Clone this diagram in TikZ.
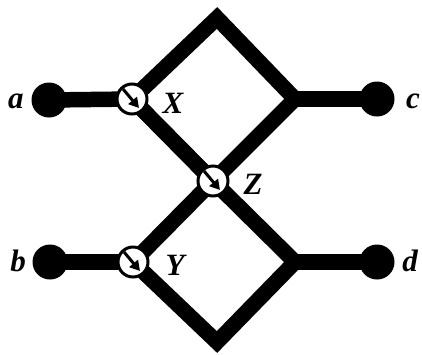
\documentclass[tikz,border=0pt]{standalone}
\usepackage{fontspec}
\setmainfont{Liberation Serif}
\usetikzlibrary{arrows.meta,calc}
\begin{document}
\begin{tikzpicture}[x=1pt,y=-1pt,
  wire/.style={line width=15.5pt,line join=miter},
  term/.style={circle,fill=black,minimum size=35pt,inner sep=0pt},
  junc/.style={circle,draw=black,fill=white,line width=3pt,minimum size=30pt,inner sep=0pt},
  flow/.style={line width=3pt,-{Triangle[length=10pt,width=11pt]}},
  lbl/.style={font=\fontsize{31}{31}\selectfont\bfseries\itshape,inner sep=0pt}]
\useasboundingbox (0,0) rectangle (422,354);
% terminals
\node[term] (a) at (49,100) {};
\node[term] (b) at (50,262) {};
\node[term] (c) at (377,99) {};
\node[term] (d) at (377,262) {};
% corners
\coordinate (top) at (217,18);
\coordinate (bot) at (217,342);
\coordinate (r1) at (295,99);
\coordinate (r2) at (295,262);
\coordinate (X) at (132,99);
\coordinate (Y) at (133,262);
\coordinate (Z) at (213,181);
% wires
\draw[wire] (a.center) -- (X);
\draw[wire] (b.center) -- (Y);
\draw[wire] (X) -- (top) -- (r1) -- (Z) -- (Y) -- (bot) -- (r2) -- (Z) -- cycle;
\draw[wire] (X) -- (Z);
\draw[wire] (r1) -- (c.center);
\draw[wire] (r2) -- (d.center);
% junction nodes
\foreach \j in {X,Y,Z}{
  \node[junc] (\j n) at (\j) {};
  \draw[flow] ($(\j)+(-9,-10)$) -- ($(\j)+(7,9)$);
}
% labels
\node[lbl] at (16,101) {a};
\node[lbl] at (18,261) {b};
\node[lbl] at (413,101) {c};
\node[lbl] at (410,261) {d};
\node[lbl] at (173,103) {X};
\node[lbl] at (253,184) {Z};
\node[lbl] at (175,265) {Y};
\end{tikzpicture}
\end{document}
